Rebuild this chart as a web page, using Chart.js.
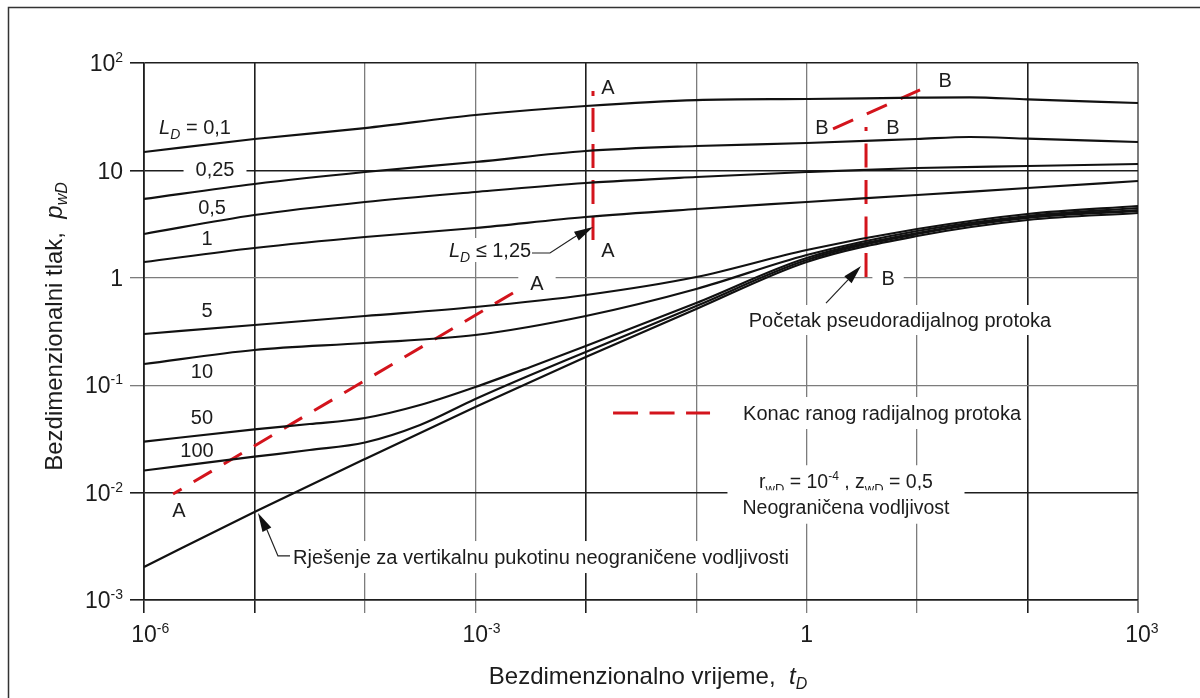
<!DOCTYPE html>
<html><head><meta charset="utf-8">
<script src="https://cdn.jsdelivr.net/npm/chart.js@4.4.1/dist/chart.umd.min.js"></script>
<style>html,body{margin:0;padding:0;background:#fff;}canvas{display:block;}</style>
</head><body>
<canvas id="c" width="1200" height="698"></canvas>
<script>
// ---------- data ----------
const tDecades = [1e-6,1e-5,1e-4,1e-3,1e-2,1e-1,1,10,100,1000];
const tUpper   = [1e-6,1e-5,1e-4,1e-3,1e-2,1e-1,1,10,30,100,1000];
const tLower   = [1e-6,1e-5,3.16e-5,1e-4,3.16e-4,1e-3,3.16e-3,1e-2,1e-1,1,10,100,1000];

const pLD_0_1  = [14.84,19.61,24.8,32.8,39.8,45.2,46.2,47.5,47.9,45.9,42.4];      // on tUpper
const pLD_0_25 = [5.42,7.47,9.66,11.97,15.16,16.87,17.99,19.61,20.46,19.74,18.38]; // on tUpper
const pLD_0_5  = [2.557,3.843,5.08,6.295,7.63,8.68,9.66,10.53,10.99,11.47];       // on tDecades
const pLD_1    = [1.403,1.894,2.399,2.909,3.683,4.371,5.08,5.90,6.86,7.97];
const pLD_5    = [0.2997,0.3634,0.4409,0.5346,0.6916,1.017,1.815,2.847,3.926,4.661];
const pLD_10   = [0.1575,0.2127,0.2471,0.2934,0.4409,0.7866,1.630,2.728,3.763,4.467];
const pLD_50   = [0.02978,0.03886,0.0435,0.04951,0.0654,0.09621,0.148,0.2317,0.5825,1.529,2.613,3.683,4.278]; // on tLower
const pLD_100  = [0.01606,0.02159,0.02491,0.02927,0.04261,0.07438,0.1245,0.2038,0.5463,1.465,2.557,3.604,4.188]; // on tLower
const pFracInf = [0.002029,0.006598,0.02055,0.06266,0.1831,0.5124,1.403,2.450,3.452,4.012]; // on tDecades

// red dashed boundaries
const tEndA_diag = [1.831e-6, 2.702e-3];  const pEndA_diag = [0.0097, 0.8209];
const tEndA_vert = [0.011625, 0.011625];  const pEndA_vert = [2.249, 54.9];
const tEndB_vert = [3.447, 3.447];        const pEndB_vert = [1.017, 25.36];
const tEndB_diag = [1.733, 10.63];        const pEndB_diag = [24.30, 56.07];

// tick labels: [base, exponent]
const xTickLabels = [['10','-6'],null,null,['10','-3'],null,null,['1',''],null,null,['10','3']];
const yTickValues = [1e-3,1e-2,1e-1,1,10,100];
const yTickLabels = [['10','-3'],['10','-2'],['10','-1'],['1',''],['10',''],['10','2']];
const xDarkGrid = [1e-6,1e-5,1e-2,100];
const yDarkGrid = [1e-3,1e-2,10,100];

// ---------- styling ----------
const FONT = 'Liberation Sans, Arial, Helvetica, sans-serif';
const TXT = '#1c1c1c';
const DARK = '#1e1e1e', GRAY = '#7c7c7c';
const RED = '#d3141c';
const TICK_SIZE = 23;
const same = (a,b) => Math.abs(Math.log10(a) - Math.log10(b)) < 1e-6;

function curve(t, p, extra) {
  return Object.assign({
    data: t.map((x,i) => ({x, y: p[i]})),
    borderColor: '#111', borderWidth: 2.2, pointRadius: 0, fill: false,
    cubicInterpolationMode: 'monotone'
  }, extra || {});
}
function redLine(t, p, dash, offset) {
  return {
    data: t.map((x,i) => ({x, y: p[i]})),
    borderColor: RED, borderWidth: 3, pointRadius: 0, fill: false, tension: 0,
    borderDash: dash, borderDashOffset: offset || 0, borderCapStyle: 'butt'
  };
}

// ---------- rich text helpers ----------
function segFont(k, size) {
  const small = (k === 'sub' || k === 'isub' || k === 'sup');
  const s = small ? Math.round(size * (k === 'sup' ? 0.62 : 0.68)) : size;
  const it = (k === 'i' || k === 'isub') ? 'italic ' : '';
  return it + s + 'px ' + FONT;
}
function segDy(k, size) {
  if (k === 'sub' || k === 'isub') return size * 0.24;
  if (k === 'sup') return -size * 0.40;
  return 0;
}
function richWidth(ctx, segs, size) {
  let w = 0;
  for (const [t,k] of segs) { ctx.font = segFont(k, size); w += ctx.measureText(t).width; }
  return w;
}
function drawRich(ctx, segs, x, yMid, size, align, box) {
  const w = richWidth(ctx, segs, size);
  let x0 = align === 'left' ? x : (align === 'right' ? x - w : x - w / 2);
  if (box) {
    ctx.fillStyle = '#fff';
    ctx.fillRect(x0 - box[0], yMid - size * 0.5 - box[1], w + 2 * box[0], size + 2 * box[1]);
  }
  const base = yMid + size * 0.36;
  ctx.fillStyle = TXT; ctx.textAlign = 'left'; ctx.textBaseline = 'alphabetic';
  for (const [t,k] of segs) {
    ctx.font = segFont(k, size);
    ctx.fillText(t, x0, base + segDy(k, size));
    x0 += ctx.measureText(t).width;
  }
}

// annotations placed in data space (log10 t, log10 p)
const notes = [
  {lt:-5.538, lp:1.404, segs:[['L','i'],['D','isub'],[' = 0,1','n']]},
  {lt:-5.357, lp:1.013, segs:[['0,25','n']], box:[12,2]},
  {lt:-5.384, lp:0.659, segs:[['0,5','n']]},
  {lt:-5.430, lp:0.371, segs:[['1','n']]},
  {lt:-5.430, lp:-0.300, segs:[['5','n']]},
  {lt:-5.475, lp:-0.868, segs:[['10','n']]},
  {lt:-5.475, lp:-1.296, segs:[['50','n']]},
  {lt:-5.520, lp:-1.603, segs:[['100','n']]},
  {lt:-5.683, lp:-2.162, segs:[['A','n']]},
  {lt:-2.442, lp:-0.048, segs:[['A','n']], box:[12,2]},
  {lt:-1.799, lp:1.777, segs:[['A','n']]},
  {lt:-1.799, lp:0.259, segs:[['A','n']]},
  {lt:-2.867, lp:0.259, segs:[['L','i'],['D','isub'],[' ≤ 1,25','n']], box:[3,2]},
  {lt:1.253, lp:1.842, segs:[['B','n']]},
  {lt:0.139, lp:1.404, segs:[['B','n']]},
  {lt:0.782, lp:1.404, segs:[['B','n']]},
  {lt:0.737, lp:-0.002, segs:[['B','n']], box:[9,2]},
  {lt:0.845, lp:-0.393, segs:[['Početak pseudoradijalnog protoka','n']], box:[6,5]},
  {lt:-0.576, lp:-1.259, segs:[['Konac ranog radijalnog protoka','n']], align:'left', box:[6,6]},
  {lt:0.356, lp:-1.892, size:19.5, segs:[['r','n'],['wD','sub'],[' = 10','n'],['-4','sup'],[' , z','n'],['wD','sub'],[' = 0,5','n']], box:[15,6]},
  {lt:0.356, lp:-2.134, size:19.5, segs:[['Neograničena vodljivost','n']], box:[15,7]},
  {lt:-4.651, lp:-2.600, segs:[['Rješenje za vertikalnu pukotinu neograničene vodljivosti','n']], align:'left', box:[4,6]}
];
const arrows = [
  [[-4.678,-2.590],[-4.787,-2.590],[-4.886,-2.348],[-4.968,-2.190]],
  [[0.175,-0.235],[0.492,0.110]],
  [[-2.487,0.231],[-2.324,0.231],[-2.116,0.371],[-1.934,0.473]]
];
const legendLine = [[-1.753,-1.259],[-0.875,-1.259]];

function px(chart, lt, lp) {
  return [chart.scales.x.getPixelForValue(Math.pow(10, lt)), chart.scales.y.getPixelForValue(Math.pow(10, lp))];
}

const decor = {
  id: 'decor',
  beforeDraw(chart) {
    const c = chart.ctx;
    c.save();
    c.fillStyle = '#fff'; c.fillRect(0, 0, chart.width, chart.height);
    c.strokeStyle = '#333'; c.lineWidth = 1.5;
    c.beginPath(); c.moveTo(8.5, chart.height); c.lineTo(8.5, 7.5); c.lineTo(chart.width, 7.5); c.stroke();
    c.restore();
  },
  beforeDatasetsDraw(chart) {
    const c = chart.ctx;
    c.save();
    for (const n of notes) {
      const [x, y] = px(chart, n.lt, n.lp);
      drawRich(c, n.segs, x, y, n.size || 20, n.align || 'center', n.box);
    }
    const a = px(chart, ...legendLine[0]), b = px(chart, ...legendLine[1]);
    c.strokeStyle = RED; c.lineWidth = 3; c.setLineDash([25, 11.5]); c.lineCap = 'butt';
    c.beginPath(); c.moveTo(a[0], a[1]); c.lineTo(b[0], b[1]); c.stroke();
    c.setLineDash([]);
    c.restore();
  },
  afterDatasetsDraw(chart) {
    const c = chart.ctx;
    c.save();
    c.strokeStyle = '#222'; c.fillStyle = '#111'; c.lineWidth = 1.2;
    for (const arr of arrows) {
      const pts = arr.map(p => px(chart, p[0], p[1]));
      const tip = pts[pts.length - 1], prev = pts[pts.length - 2];
      const ang = Math.atan2(tip[1] - prev[1], tip[0] - prev[0]);
      const L = 19, W = 5;
      const bx = tip[0] - L * Math.cos(ang), by = tip[1] - L * Math.sin(ang);
      c.beginPath(); c.moveTo(pts[0][0], pts[0][1]);
      for (let i = 1; i < pts.length - 1; i++) c.lineTo(pts[i][0], pts[i][1]);
      c.lineTo(bx, by); c.stroke();
      c.beginPath(); c.moveTo(tip[0], tip[1]);
      c.lineTo(bx + W * Math.sin(ang), by - W * Math.cos(ang));
      c.lineTo(bx - W * Math.sin(ang), by + W * Math.cos(ang));
      c.closePath(); c.fill();
    }
    c.restore();
  },
  afterDraw(chart) {
    const c = chart.ctx, ca = chart.chartArea, xs = chart.scales.x, ys = chart.scales.y;
    c.save();
    // tick labels with real superscripts, positioned by the library's scales
    xs.ticks.forEach(tk => {
      const i = tDecades.findIndex(d => same(d, tk.value));
      const lab = i >= 0 ? xTickLabels[i] : null;
      if (!lab) return;
      c.font = segFont('n', TICK_SIZE);
      const bw = c.measureText(lab[0]).width;
      const x = xs.getPixelForValue(tk.value) - bw / 2;
      const segs = [[lab[0], 'n']]; if (lab[1]) segs.push([lab[1], 'sup']);
      drawRich(c, segs, x, ca.bottom + 34, TICK_SIZE, 'left');
    });
    ys.ticks.forEach(tk => {
      const i = yTickValues.findIndex(d => same(d, tk.value));
      if (i < 0) return;
      const lab = yTickLabels[i];
      const segs = [[lab[0], 'n']]; if (lab[1]) segs.push([lab[1], 'sup']);
      drawRich(c, segs, ca.left - 21, ys.getPixelForValue(tk.value), TICK_SIZE, 'right');
    });
    // axis titles
    drawRich(c, [['Bezdimenzionalno vrijeme,  ','n'],['t','i'],['D','isub']], (ca.left + ca.right) / 2 + 7, 675, 24, 'center');
    c.translate(53, (ca.top + ca.bottom) / 2 - 5);
    c.rotate(-Math.PI / 2);
    drawRich(c, [['Bezdimenzionalni tlak,  ','n'],['p','i'],['wD','isub']], 0, 0, 24, 'center');
    c.restore();
  }
};

new Chart(document.getElementById('c'), {
  type: 'line',
  data: {
    datasets: [
      curve(tUpper, pLD_0_1, {label: 'L_D = 0,1'}),
      curve(tUpper, pLD_0_25, {label: 'L_D = 0,25'}),
      curve(tDecades, pLD_0_5, {label: 'L_D = 0,5'}),
      curve(tDecades, pLD_1, {label: 'L_D = 1'}),
      curve(tDecades, pLD_5, {label: 'L_D = 5'}),
      curve(tDecades, pLD_10, {label: 'L_D = 10'}),
      curve(tLower, pLD_50, {label: 'L_D = 50'}),
      curve(tLower, pLD_100, {label: 'L_D = 100'}),
      curve(tDecades, pFracInf, {label: 'Vertikalna pukotina'}),
      redLine(tEndA_diag, pEndA_diag, [21, 14], 11),
      redLine(tEndA_vert, pEndA_vert, [24, 12]),
      redLine(tEndB_vert, pEndB_vert, [24, 12.5]),
      redLine(tEndB_diag, pEndB_diag, [22, 15])
    ]
  },
  options: {
    responsive: false, animation: false, devicePixelRatio: 1,
    layout: {padding: {top: 63, right: 62, left: 0, bottom: 0}},
    plugins: {legend: {display: false}, tooltip: {enabled: false}},
    scales: {
      x: {
        type: 'logarithmic', min: 1e-6, max: 1e3,
        afterBuildTicks: s => { s.ticks = tDecades.map(v => ({value: v})); },
        afterFit: s => { s.height = 98; },
        ticks: {display: false, autoSkip: false, maxRotation: 0, minRotation: 0},
        grid: {
          tickLength: 13,
          color: c => (c.tick && xDarkGrid.some(d => same(d, c.tick.value))) ? DARK : GRAY,
          lineWidth: c => (c.tick && same(c.tick.value, 1000)) ? 2 : ((c.tick && xDarkGrid.some(d => same(d, c.tick.value))) ? 1.6 : 1.3)
        },
        border: {display: true, color: DARK, width: 1.6}
      },
      y: {
        type: 'logarithmic', min: 1e-3, max: 1e2,
        afterBuildTicks: s => { s.ticks = yTickValues.map(v => ({value: v})); },
        afterFit: s => { s.width = 144; },
        ticks: {display: false, autoSkip: false},
        grid: {
          tickLength: 14,
          color: c => (c.tick && yDarkGrid.some(d => same(d, c.tick.value))) ? DARK : GRAY,
          lineWidth: c => (c.tick && yDarkGrid.some(d => same(d, c.tick.value))) ? 1.6 : 1.3
        },
        border: {display: true, color: DARK, width: 1.6}
      }
    }
  },
  plugins: [decor]
});
</script>
</body></html>
